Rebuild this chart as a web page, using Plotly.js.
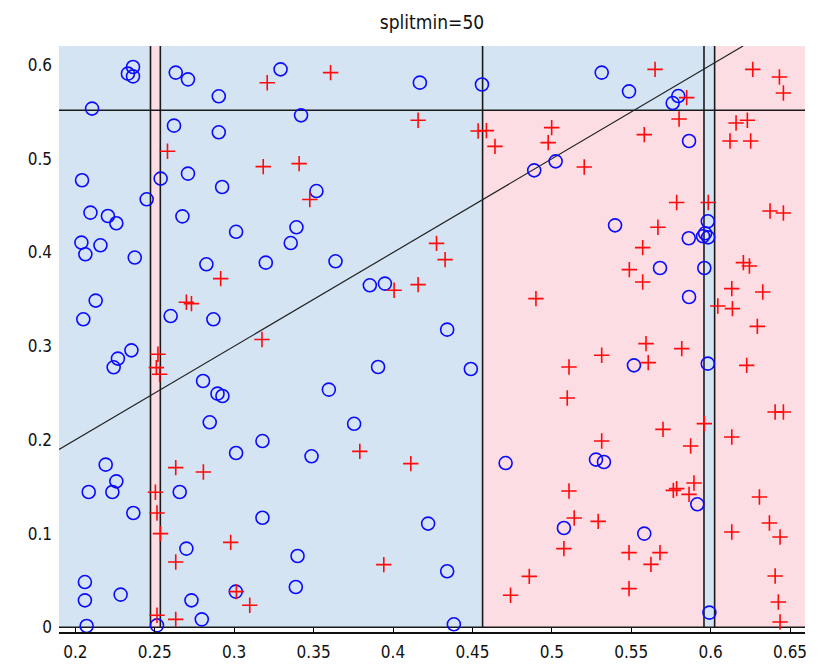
<!DOCTYPE html>
<html>
<head>
<meta charset="utf-8">
<script src="https://cdn.plot.ly/plotly-3.0.1.min.js"></script>
<style>html,body{margin:0;padding:0;background:#fff;}#chart{width:821px;height:664px;}</style>
</head>
<body>
<div id="chart"></div>
<script>
// ---- data ----
const blueX = [0.2363,0.2331,0.2363,0.2632,0.2709,0.2903,0.2105,0.2621,0.2903,0.2042,
  0.2709,0.2537,0.2924,0.2449,0.2095,0.2205,0.2258,0.2674,0.3012,0.2038,
  0.2158,0.2063,0.2374,0.2825,0.3199,0.2128,0.2050,0.2600,0.2869,0.2353,
  0.2268,0.2241,0.2804,0.2895,0.2926,0.2846,0.3178,0.3012,0.2191,0.2258,
  0.2084,0.2233,0.2657,0.2365,0.3178,0.2699,0.2060,0.2060,0.2285,0.2731,
  0.3010,0.2796,0.2071,0.2514,0.3292,0.4169,0.4560,0.3421,0.3518,0.3392,
  0.3356,0.3638,0.3854,0.3949,0.4341,0.3906,0.4490,0.3596,0.3755,0.3487,
  0.4221,0.3399,0.4341,0.3388,0.4383,0.5314,0.5486,0.5796,0.5761,0.5864,
  0.4889,0.5024,0.5398,0.5982,0.5862,0.5965,0.5984,0.5952,0.5681,0.5960,
  0.5864,0.5517,0.5982,0.4709,0.5278,0.5328,0.5916,0.5076,0.5582,0.5992];
const blueY = [0.5980,0.5909,0.5880,0.5920,0.5848,0.5667,0.5536,0.5354,0.5283,0.4771,
  0.4842,0.4789,0.4699,0.4568,0.4426,0.4390,0.4312,0.4386,0.4221,0.4106,
  0.4077,0.3981,0.3946,0.3874,0.3892,0.3487,0.3287,0.3322,0.3287,0.2956,
  0.2868,0.2775,0.2629,0.2494,0.2469,0.2188,0.1988,0.1860,0.1736,0.1558,
  0.1444,0.1444,0.1444,0.1220,0.1169,0.0840,0.0483,0.0288,0.0349,0.0288,
  0.0381,0.0085,0.0014,0.0021,0.5955,0.5813,0.5793,0.5464,0.4656,0.4269,
  0.4101,0.3906,0.3650,0.3668,0.3177,0.2778,0.2757,0.2537,0.2172,0.1825,
  0.1107,0.0761,0.0598,0.0430,0.0032,0.5920,0.5720,0.5670,0.5595,0.5190,
  0.4877,0.4973,0.4290,0.4333,0.4152,0.4205,0.4162,0.4173,0.3835,0.3835,
  0.3525,0.2796,0.2814,0.1753,0.1790,0.1764,0.1313,0.1060,0.1000,0.0157];
const redX = [0.2580,0.3208,0.3183,0.2915,0.2699,0.2731,0.3175,0.2520,0.2510,0.2531,
  0.2632,0.2806,0.2504,0.2514,0.2536,0.2978,0.2632,0.3014,0.3098,0.2514,
  0.2632,0.3607,0.4158,0.4536,0.4588,0.3409,0.3476,0.4274,0.4328,0.4007,
  0.4158,0.3791,0.4112,0.3942,0.5650,0.6265,0.6433,0.6458,0.5849,0.5801,
  0.6160,0.6231,0.6122,0.6252,0.5582,0.4999,0.4977,0.4642,0.5204,0.5786,
  0.5985,0.5668,0.6374,0.6458,0.5572,0.5488,0.5572,0.4900,0.6206,0.6244,
  0.6133,0.6328,0.6045,0.6137,0.6294,0.5593,0.5818,0.5314,0.5607,0.6227,
  0.5108,0.5097,0.6406,0.6458,0.5700,0.5960,0.6133,0.5314,0.5874,0.5108,
  0.5765,0.5786,0.5895,0.5864,0.6307,0.5141,0.5292,0.6370,0.6437,0.6133,
  0.5076,0.5486,0.5681,0.5624,0.4858,0.4740,0.5486,0.6406,0.6426,0.6437];
const redY = [0.5080,0.5811,0.4917,0.3721,0.3469,0.3455,0.3071,0.2914,0.2772,0.2700,
  0.1704,0.1657,0.1441,0.1220,0.1000,0.0907,0.0697,0.0381,0.0235,0.0128,
  0.0085,0.5920,0.5411,0.5297,0.5301,0.4949,0.4565,0.4098,0.3924,0.3597,
  0.3657,0.1878,0.1747,0.0669,0.5955,0.5955,0.5873,0.5702,0.5653,0.5425,
  0.5382,0.5411,0.5190,0.5190,0.5258,0.5333,0.5173,0.5133,0.4913,0.4533,
  0.4533,0.4269,0.4443,0.4422,0.4052,0.3817,0.3685,0.3508,0.3892,0.3856,
  0.3615,0.3578,0.3429,0.3401,0.3212,0.3028,0.2974,0.2903,0.2825,0.2796,
  0.2778,0.2447,0.2298,0.2298,0.2113,0.2174,0.2031,0.1988,0.1935,0.1455,
  0.1462,0.1480,0.1540,0.1419,0.1391,0.1166,0.1131,0.1113,0.0964,0.1017,
  0.0840,0.0797,0.0797,0.0672,0.0544,0.0342,0.0413,0.0547,0.0270,0.0057];

// tree split values
const splitX = [0.2473, 0.2535, 0.4564, 0.5958, 0.6025];
const splitY = [0.5518];
const xTickVals = [0.2,0.25,0.3,0.35,0.4,0.45,0.5,0.55,0.6,0.65];
const xTickText = ['0.2','0.25','0.3','0.35','0.4','0.45','0.5','0.55','0.6','0.65'];
const yTickVals = [0,0.1,0.2,0.3,0.4,0.5,0.6];
const yTickText = ['0','0.1','0.2','0.3','0.4','0.5','0.6'];
const xRange = [0.1897, 0.6594];
const yRange = [-0.005, 0.6204];
const titleText = 'splitmin=50';

// ---- build ----
const BLUE_BG = '#d4e4f3', PINK_BG = '#fddde4';
const xmin = xRange[0], xmax = xRange[1], ytop = yRange[1];
const regions = [
  [xmin, splitX[0], 0, ytop, 0],
  [splitX[0], splitX[1], 0, ytop, 1],
  [splitX[1], splitX[2], 0, ytop, 0],
  [splitX[2], splitX[3], 0, splitY[0], 1],
  [splitX[2], splitX[3], splitY[0], ytop, 0],
  [splitX[3], splitX[4], 0, ytop, 0],
  [splitX[4], xmax, 0, ytop, 1]
];
const shapes = [];
regions.forEach(r => shapes.push({type:'rect', xref:'x', yref:'y', x0:r[0], x1:r[1], y0:r[2], y1:r[3],
  fillcolor: r[4] ? PINK_BG : BLUE_BG, line:{width:0}, layer:'below'}));
const lineStyle = {color:'#1a1a1a', width:1.6};
splitX.forEach(v => shapes.push({type:'line', xref:'x', yref:'y', x0:v, x1:v, y0:0, y1:ytop, line:lineStyle, layer:'below'}));
splitY.forEach(v => shapes.push({type:'line', xref:'x', yref:'y', x0:xmin, x1:xmax, y0:v, y1:v, line:lineStyle, layer:'below'}));
shapes.push({type:'line', xref:'x', yref:'y', x0:xmin, x1:xmax, y0:0, y1:0, line:lineStyle, layer:'below'});
// true boundary y = x
shapes.push({type:'line', xref:'x', yref:'y', x0:xmin, x1:ytop, y0:xmin, y1:ytop, line:{color:'#222', width:1.2}, layer:'below'});

const traces = [
  {x: blueX, y: blueY, type:'scatter', mode:'markers', name:'blue', cliponaxis:false,
   marker:{symbol:'circle-open', size:13, color:'#0a0aff', line:{width:1.6, color:'#0a0aff'}}},
  {x: redX, y: redY, type:'scatter', mode:'markers', name:'red', cliponaxis:false,
   marker:{symbol:'cross-thin-open', size:11, color:'#ff0a0a', line:{width:1.6, color:'#ff0a0a'}}}
];

const FONT = 'DejaVu Sans Condensed, Liberation Sans, sans-serif';
const layout = {
  width: 821, height: 664,
  margin: {l:59, r:16, t:46, b:32, pad:0},
  paper_bgcolor:'#ffffff', plot_bgcolor:'#ffffff',
  showlegend:false,
  font:{family:FONT, size:17, color:'#111'},
  title:{text:titleText, font:{family:FONT, size:19, color:'#111'}, x:0.5, xref:'paper', y:1-22/664, yref:'container', yanchor:'middle'},
  xaxis:{range:xRange, tickmode:'array', tickvals:xTickVals, ticktext:xTickText, ticks:'inside', ticklen:4, tickwidth:1, tickcolor:'#000',
    showline:true, linecolor:'#111', linewidth:1.5, showgrid:false, zeroline:false, fixedrange:true, ticklabelstandoff:4,
    tickfont:{family:FONT, size:17, color:'#111'}},
  yaxis:{range:yRange, tickmode:'array', tickvals:yTickVals, ticktext:yTickText, ticks:'', showline:false, showgrid:false,
    zeroline:false, fixedrange:true, ticklabelstandoff:6, tickfont:{family:FONT, size:17, color:'#111'}},
  shapes: shapes
};
Plotly.newPlot('chart', traces, layout, {staticPlot:true, displayModeBar:false});
</script>
</body>
</html>
